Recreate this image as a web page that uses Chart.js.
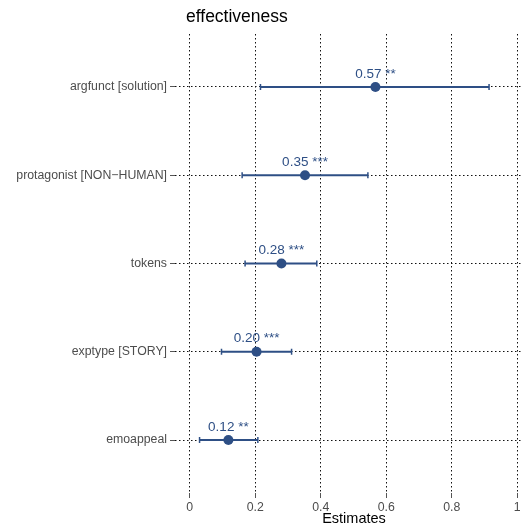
<!DOCTYPE html>
<html><head><meta charset="utf-8">
<script src="https://cdn.jsdelivr.net/npm/chart.js@4.4.1/dist/chart.umd.min.js"></script>
<style>html,body{margin:0;padding:0;background:#fff}#wrap{width:526px;height:529px}</style>
</head><body><div id="wrap"><canvas id="c" width="526" height="529"></canvas></div>
<script>
const chartTitle = 'effectiveness';
const xAxisTitle = 'Estimates';
const terms = ['argfunct [solution]', 'protagonist [NON\u2212HUMAN]', 'tokens', 'exptype [STORY]', 'emoappeal'];
const estimates = [0.567, 0.352, 0.280, 0.204, 0.118];
const ciLow = [0.216, 0.160, 0.169, 0.097, 0.030];
const ciHigh = [0.914, 0.544, 0.388, 0.311, 0.208];
const stars = ['**', '***', '***', '***', '**'];
const xTicks = [0, 0.2, 0.4, 0.6, 0.8, 1];
const xTickLabels = ['0', '0.2', '0.4', '0.6', '0.8', '1'];

const FAMILY = '"Liberation Sans", Arial, Helvetica, sans-serif';
const BLUE = '#2e4f85';

const ciDatasets = terms.map((t, i) => ({
  type: 'scatter',
  showLine: true,
  data: [{x: ciLow[i], y: i}, {x: ciHigh[i], y: i}],
  borderColor: BLUE,
  backgroundColor: BLUE,
  borderWidth: 2,
  pointStyle: 'line',
  rotation: 90,
  pointRadius: 3,
  pointBorderWidth: 1.5,
  pointBorderColor: BLUE,
  order: 2
}));

const pointDataset = {
  type: 'scatter',
  data: estimates.map((v, i) => ({x: v, y: i})),
  backgroundColor: BLUE,
  borderColor: BLUE,
  pointRadius: 5,
  pointBorderWidth: 0,
  order: 1
};

const annot = {
  id: 'annot',
  afterDatasetsDraw(chart) {
    const {ctx, scales: {x, y}} = chart;
    ctx.save();
    ctx.fillStyle = BLUE;
    ctx.font = '13.5px ' + FAMILY;
    ctx.textAlign = 'center';
    ctx.textBaseline = 'middle';
    estimates.forEach((v, i) => {
      ctx.fillText(v.toFixed(2) + ' ' + stars[i], x.getPixelForValue(v), y.getPixelForValue(i) - 13);
    });
    ctx.fillStyle = '#000';
    ctx.textAlign = 'left';
    ctx.font = '17.5px ' + FAMILY;
    ctx.fillText(chartTitle, 186, 17);
    ctx.textAlign = 'center';
    ctx.font = '14.5px ' + FAMILY;
    ctx.fillText(xAxisTitle, 354, 519);
    ctx.restore();
  }
};

new Chart(document.getElementById('c'), {
  type: 'scatter',
  data: {datasets: [pointDataset, ...ciDatasets]},
  options: {
    responsive: false,
    animation: false,
    layout: {padding: {top: 34, right: 4, left: 0, bottom: 0}},
    plugins: {legend: {display: false}, tooltip: {enabled: false}, title: {display: false}},
    scales: {
      x: {
        type: 'linear', min: -0.045, max: 1.01,
        afterBuildTicks(s) { s.ticks = xTicks.map(v => ({value: v})); },
        afterFit(s) { s.height = 36; },
        ticks: {callback: (v, i) => xTickLabels[i], color: '#4d4d4d', font: {size: 12.3, family: FAMILY}, padding: 2, maxRotation: 0, autoSkip: false},
        grid: {color: '#111', lineWidth: 1, borderDash: [1.5, 2.5], tickLength: 5, tickColor: '#555', tickWidth: 1, tickBorderDash: []},
        border: {display: false, dash: [1.5, 2.5]}
      },
      y: {
        type: 'linear', reverse: true, min: -0.6, max: 4.6,
        afterBuildTicks(s) { s.ticks = terms.map((t, i) => ({value: i})); },
        afterFit(s) { s.width = 175; },
        ticks: {callback: (v) => terms[v], color: '#4d4d4d', font: {size: 12.3, family: FAMILY}, padding: 3, autoSkip: false},
        grid: {color: '#111', lineWidth: 1, borderDash: [1.5, 2.5], tickLength: 5, tickColor: '#555', tickWidth: 1, tickBorderDash: []},
        border: {display: false, dash: [1.5, 2.5]}
      }
    }
  },
  plugins: [annot]
});
</script>
</body></html>
